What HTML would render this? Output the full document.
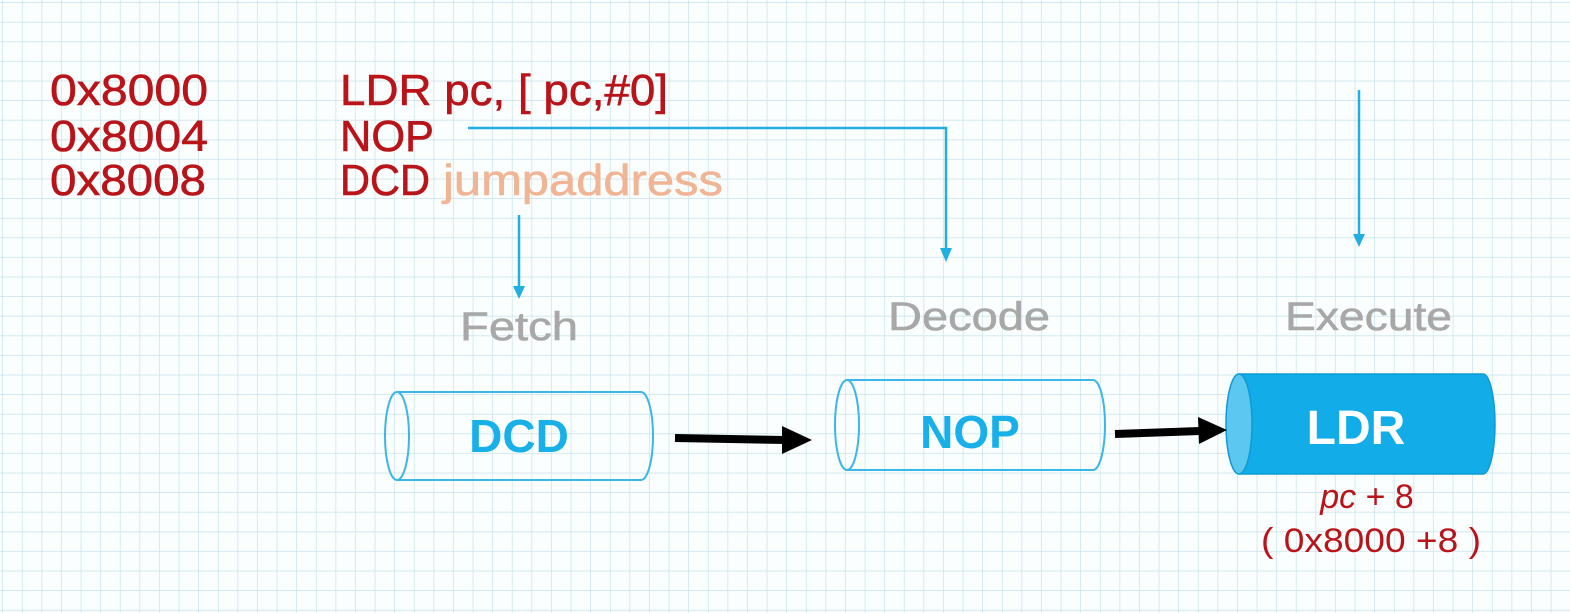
<!DOCTYPE html>
<html><head><meta charset="utf-8"><style>
html,body{margin:0;padding:0;background:#fff;}
svg{display:block;}
text{font-family:"Liberation Sans",sans-serif;}
</style></head><body>
<svg width="1570" height="613" viewBox="0 0 1570 613" xmlns="http://www.w3.org/2000/svg">
<defs>
<pattern id="g" x="3" y="3" width="19.6" height="19.6" patternUnits="userSpaceOnUse">
<path d="M19.6 0V19.6M0 19.6H19.6" fill="none" stroke="#c6e2ea" stroke-width="1.4"/>
</pattern>
</defs>
<rect width="1570" height="613" fill="#fbfefe"/>
<rect width="1570" height="613" fill="url(#g)"/>

<g fill="#b8141a" font-size="44" stroke="#b8141a" stroke-width="0.6">
<text x="50" y="105" textLength="158" lengthAdjust="spacingAndGlyphs">0x8000</text>
<text x="50" y="151" textLength="158" lengthAdjust="spacingAndGlyphs">0x8004</text>
<text x="50" y="195" textLength="156" lengthAdjust="spacingAndGlyphs">0x8008</text>
<text x="340" y="105" textLength="328" lengthAdjust="spacingAndGlyphs">LDR pc, [ pc,#0]</text>
<text x="340" y="151" textLength="94" lengthAdjust="spacingAndGlyphs">NOP</text>
<text x="340" y="195" textLength="90" lengthAdjust="spacingAndGlyphs">DCD</text>
</g>
<text x="443" y="195" font-size="44" fill="#f0b595" stroke="#f0b595" stroke-width="0.6" textLength="280" lengthAdjust="spacingAndGlyphs">jumpaddress</text>

<g stroke="#23aee0" stroke-width="2.5" fill="none">
<path d="M468 128H946V250"/>
<path d="M519 215V288"/>
<path d="M1359 90V236"/>
</g>
<g fill="#23aee0">
<path d="M940 248L952 248L946 262Z"/>
<path d="M513 286L525 286L519 299Z"/>
<path d="M1353 234L1365 234L1359 247Z"/>
</g>

<g fill="#a8a8a8" font-size="40" stroke="#a8a8a8" stroke-width="0.6">
<text x="460" y="340" textLength="118" lengthAdjust="spacingAndGlyphs">Fetch</text>
<text x="888" y="330" textLength="162" lengthAdjust="spacingAndGlyphs">Decode</text>
<text x="1285" y="330" textLength="167" lengthAdjust="spacingAndGlyphs">Execute</text>
</g>

<g stroke="#3cb6e6" stroke-width="2" fill="none">
<path d="M397 392H641A12 44 0 0 1 641 480H397"/>
<ellipse cx="397" cy="436" rx="12" ry="44"/>
<path d="M847 380H1093A12 45 0 0 1 1093 470H847"/>
<ellipse cx="847" cy="425" rx="12" ry="45"/>
</g>
<text x="519" y="452" font-size="46" font-weight="bold" fill="#19b0ea" text-anchor="middle">DCD</text>
<text x="970" y="448" font-size="46" font-weight="bold" fill="#19b0ea" text-anchor="middle">NOP</text>

<path d="M1239 374H1483A12 50 0 0 1 1483 474H1239Z" fill="#12ade8" stroke="#0e9bd3" stroke-width="1.5"/>
<ellipse cx="1239" cy="424" rx="13" ry="50" fill="#5cc7f0" stroke="#0e9bd3" stroke-width="1.5"/>
<text x="1356" y="444" font-size="48" font-weight="bold" fill="#fff" text-anchor="middle">LDR</text>

<path d="M675 438L786 440" stroke="#000" stroke-width="8"/>
<path d="M782 426L812 440L782 454Z" fill="#000"/>
<path d="M1115 434L1200 431" stroke="#000" stroke-width="8"/>
<path d="M1198 417L1227 430L1199 444Z" fill="#000"/>

<text x="1367" y="508" font-size="34" fill="#b8141a" text-anchor="middle"><tspan font-style="italic">pc</tspan> + 8</text>
<text x="1371" y="552" font-size="34" fill="#b8141a" text-anchor="middle" textLength="220" lengthAdjust="spacingAndGlyphs">( 0x8000 +8 )</text>
</svg>
</body></html>
